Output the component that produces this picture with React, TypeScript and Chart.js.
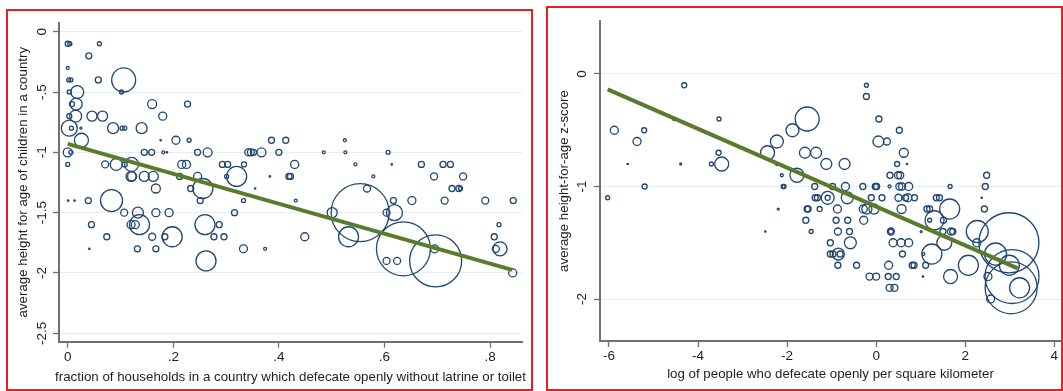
import React, { useEffect, useRef } from "react";
import Chart from "chart.js/auto";

// ---------- Left panel data ----------
const leftXTicks = [0, 0.2, 0.4, 0.6, 0.8];
const leftXTickLabels = ["0", ".2", ".4", ".6", ".8"];
const leftYTicks = [0, -0.5, -1, -1.5, -2, -2.5];
const leftYTickLabels = ["0", "-.5", "-1", "-1.5", "-2", "-2.5"];
const leftXTitle = "fraction of households in a country which defecate openly without latrine or toilet";
const leftYTitle = "average height for age of children in a country";
// [fraction defecating openly, average height-for-age, population (millions)]
const leftPoints: [number, number, number][] = [
  [0.0, -0.1, 9], [0.004, -0.1, 5.7], [0.06, -0.1, 5.7], [0.04, -0.2, 13], [0.0, -0.3, 3.2],
  [0.002, -0.4, 5.7], [0.006, -0.4, 5.7], [0.058, -0.4, 13], [0.106, -0.4, 205], [0.102, -0.5, 5.7],
  [0.018, -0.5, 60], [0.003, -0.5, 5.7], [0.016, -0.6, 51], [0.008, -0.6, 9], [0.015, -0.7, 51],
  [0.003, -0.7, 9], [0.046, -0.7, 36], [0.066, -0.7, 36], [0.003, -0.8, 91], [0.007, -0.8, 5.7],
  [0.025, -0.8, 1.4], [0.086, -0.8, 43], [0.103, -0.8, 5.7], [0.108, -0.8, 5.7], [0.14, -0.8, 43],
  [0.16, -0.6, 29], [0.227, -0.6, 13], [0.18, -0.7, 23], [0.026, -0.9, 70], [0.205, -0.9, 23],
  [0.23, -0.9, 5.7], [0.176, -0.9, 0.7], [0.0, -1.0, 29], [0.006, -1.0, 5.7], [0.145, -1.0, 13],
  [0.159, -1.0, 13], [0.181, -1.0, 3.2], [0.188, -1.0, 0.7], [0.246, -1.0, 13], [0.265, -1.0, 29],
  [0.0, -1.1, 5.7], [0.071, -1.1, 17.5], [0.092, -1.1, 51], [0.108, -1.1, 9], [0.121, -1.1, 70],
  [0.216, -1.1, 23], [0.225, -1.1, 23], [0.12, -1.2, 36], [0.122, -1.2, 29], [0.145, -1.2, 36],
  [0.162, -1.2, 36], [0.212, -1.2, 13], [0.246, -1.2, 23], [0.167, -1.3, 29], [0.233, -1.3, 13],
  [0.256, -1.3, 143], [0.293, -1.1, 13], [0.303, -1.1, 13], [0.334, -1.1, 9], [0.32, -1.2, 143],
  [0.301, -1.2, 5.7], [0.342, -1.0, 17.5], [0.347, -1.0, 17.5], [0.352, -1.0, 13], [0.367, -1.0, 29],
  [0.386, -0.9, 13], [0.413, -0.9, 13], [0.525, -0.9, 3.2], [0.4, -1.0, 13], [0.485, -1.0, 3.2],
  [0.526, -1.0, 3.2], [0.607, -1.0, 5.7], [0.43, -1.1, 23], [0.545, -1.1, 3.2], [0.614, -1.1, 0.7],
  [0.67, -1.1, 13], [0.711, -1.1, 13], [0.725, -1.1, 13], [0.383, -1.2, 0.7], [0.419, -1.2, 13],
  [0.422, -1.2, 13], [0.579, -1.2, 3.2], [0.694, -1.2, 17.5], [0.749, -1.2, 17.5], [0.728, -1.3, 13],
  [0.741, -1.3, 13], [0.744, -1.3, 5.7], [0.567, -1.3, 17.5], [0.355, -1.3, 0.7], [0.001, -1.4, 0.7],
  [0.013, -1.4, 0.7], [0.039, -1.4, 13], [0.083, -1.4, 173], [0.251, -1.4, 13], [0.333, -1.4, 5.7],
  [0.432, -1.4, 3.2], [0.617, -1.4, 13], [0.652, -1.4, 23], [0.714, -1.4, 17.5], [0.791, -1.4, 17.5],
  [0.844, -1.4, 13], [0.107, -1.5, 17.5], [0.133, -1.5, 43], [0.167, -1.5, 23], [0.192, -1.5, 23],
  [0.316, -1.5, 13], [0.554, -1.5, 1200], [0.501, -1.5, 36], [0.604, -1.5, 17.5], [0.619, -1.5, 91],
  [0.045, -1.6, 13], [0.12, -1.6, 23], [0.128, -1.6, 23], [0.136, -1.6, 143], [0.26, -1.6, 143],
  [0.287, -1.6, 13], [0.817, -1.6, 5.7], [0.074, -1.7, 13], [0.16, -1.7, 17.5], [0.184, -1.7, 13],
  [0.198, -1.7, 143], [0.277, -1.7, 13], [0.296, -1.7, 13], [0.449, -1.7, 23], [0.532, -1.7, 143],
  [0.808, -1.7, 13], [0.041, -1.8, 0.7], [0.132, -1.8, 13], [0.167, -1.8, 13], [0.333, -1.8, 23],
  [0.374, -1.8, 3.2], [0.636, -1.8, 1040], [0.695, -1.8, 23], [0.811, -1.8, 17.5], [0.819, -1.8, 70],
  [0.262, -1.9, 143], [0.604, -1.9, 17.5], [0.624, -1.9, 17.5], [0.697, -1.9, 965], [0.843, -2.0, 23],
];
const leftFitX = [0, 0.842];
const leftFitY = [-0.93, -1.975];

// ---------- Right panel data ----------
const rightXTicks = [-6, -4, -2, 0, 2, 4];
const rightXTickLabels = ["-6", "-4", "-2", "0", "2", "4"];
const rightYTicks = [0, -1, -2];
const rightYTickLabels = ["0", "-1", "-2"];
const rightXTitle = "log of people who defecate openly per square kilometer";
const rightYTitle = "average height-for-age z-score";
// [log open defecators per km², average height-for-age z-score, population (millions)]
const rightPoints: [number, number, number][] = [
  [-4.31, -0.1, 9], [-5.88, -0.5, 23], [-5.21, -0.5, 9], [-5.37, -0.6, 23], [-4.54, -0.4, 3.2],
  [-3.53, -0.4, 5.7], [-3.54, -0.7, 9], [-3.47, -0.8, 70], [-3.7, -0.8, 5.7], [-5.58, -0.8, 0.7],
  [-4.39, -0.8, 1.4], [-5.2, -1.0, 9], [-6.03, -1.1, 5.7], [-2.44, -0.7, 70], [-2.23, -0.6, 60],
  [-1.88, -0.5, 60], [-1.55, -0.4, 205], [-2.23, -0.8, 3.2], [-1.78, -0.9, 70], [-2.12, -0.9, 3.2],
  [-2.09, -1.0, 5.7], [-2.07, -1.0, 5.7], [-1.6, -0.7, 43], [-1.35, -0.7, 43], [-1.12, -0.8, 43],
  [-0.71, -0.8, 43], [-0.22, -0.1, 5.7], [-0.22, -0.2, 13], [0.06, -0.4, 13], [0.52, -0.5, 13],
  [0.05, -0.6, 43], [0.24, -0.6, 17.5], [0.62, -0.7, 29], [0.47, -0.8, 9], [0.69, -0.8, 0.7],
  [0.31, -0.9, 13], [0.49, -0.9, 17.5], [0.54, -0.9, 17.5], [2.48, -0.9, 13], [-1.38, -1.0, 13],
  [-0.98, -1.0, 13], [-0.69, -1.0, 23], [-0.3, -1.0, 13], [-0.02, -1.0, 13], [0.01, -1.0, 13],
  [0.3, -1.0, 3.2], [0.52, -1.0, 17.5], [0.58, -1.0, 17.5], [0.73, -1.0, 23], [1.66, -1.0, 5.7],
  [2.45, -1.0, 13], [-1.37, -1.1, 13], [-1.32, -1.1, 13], [-1.09, -1.1, 60], [-1.09, -1.1, 9],
  [-0.65, -1.1, 51], [-0.11, -1.1, 13], [0.13, -1.1, 13], [0.5, -1.1, 17.5], [0.66, -1.1, 13],
  [0.71, -1.1, 23], [0.86, -1.1, 13], [1.35, -1.1, 13], [1.42, -1.1, 13], [2.37, -1.1, 0.7],
  [-2.2, -1.2, 1.4], [-1.53, -1.2, 13], [-1.55, -1.2, 13], [-1.27, -1.2, 9], [-0.87, -1.2, 23],
  [-0.29, -1.2, 23], [-0.21, -1.2, 36], [-0.05, -1.2, 36], [0.57, -1.2, 29], [1.14, -1.2, 13],
  [1.2, -1.2, 13], [1.65, -1.2, 143], [2.43, -1.2, 13], [-1.58, -1.3, 13], [-0.9, -1.3, 13],
  [-0.64, -1.3, 13], [-0.28, -1.3, 23], [1.2, -1.3, 5.7], [1.31, -1.3, 129], [1.51, -1.3, 13],
  [-2.49, -1.4, 0.7], [-1.46, -1.4, 5.7], [-0.86, -1.4, 17.5], [-0.6, -1.4, 13], [0.33, -1.4, 17.5],
  [0.33, -1.4, 9], [1.01, -1.4, 1.4], [1.5, -1.4, 13], [1.68, -1.4, 17.5], [1.72, -1.4, 13],
  [2.27, -1.4, 173], [-1.03, -1.5, 13], [-0.58, -1.5, 51], [0.38, -1.5, 23], [0.56, -1.5, 23],
  [0.73, -1.5, 23], [1.53, -1.5, 80], [2.26, -1.5, 23], [2.98, -1.5, 1285], [-1.03, -1.6, 13],
  [-0.97, -1.6, 13], [-0.85, -1.6, 51], [-0.81, -1.6, 13], [0.59, -1.6, 13], [1.06, -1.6, 3.2],
  [1.25, -1.6, 143], [2.68, -1.6, 173], [-0.86, -1.7, 13], [-0.44, -1.7, 13], [0.28, -1.7, 23],
  [0.81, -1.7, 13], [0.85, -1.7, 13], [1.11, -1.7, 13], [2.07, -1.7, 143], [2.99, -1.7, 143],
  [-0.15, -1.8, 17.5], [0.0, -1.8, 17.5], [0.27, -1.8, 13], [0.45, -1.8, 13], [1.05, -1.8, 0.7],
  [1.67, -1.8, 70], [2.51, -1.8, 23], [3.05, -1.8, 1040], [0.3, -1.9, 17.5], [0.41, -1.9, 17.5],
  [3.03, -1.9, 965], [3.22, -1.9, 143], [2.57, -2.0, 23],
];
const rightFitX = [-6.03, 3.18];
const rightFitY = [-0.136, -1.727];

// ---------- styles ----------
const NAVY = "#1f4673";
const FIT = "#5a7b2b";
const AXIS = "#707070";
const GRID = "#e8ecef";
const TEXT = "#1e1e1e";
const FONT = '"Liberation Sans", Arial, sans-serif';
const TICK_SIZE = 13.5;
const TITLE_SIZE = 13.3;
const RADIUS_K = 0.837;

type Spec = {
  points: [number, number, number][];
  fitX: number[]; fitY: number[];
  xTicks: number[]; xTickLabels: string[];
  yTicks: number[]; yTickLabels: string[];
  xTitle: string; yTitle: string;
  xMin: number; xMax: number; yMin: number; yMax: number;
  yAxisWidth: number; xAxisHeight: number; padTop: number; padRight: number;
  yTickX: number; yTitleX: number; xTitleY: number;
};

const leftSpec: Spec = {
  points: leftPoints, fitX: leftFitX, fitY: leftFitY,
  xTicks: leftXTicks, xTickLabels: leftXTickLabels, yTicks: leftYTicks, yTickLabels: leftYTickLabels,
  xTitle: leftXTitle, yTitle: leftYTitle,
  xMin: -0.0165, xMax: 0.8606, yMin: -2.57, yMax: 0.0746,
  yAxisWidth: 59, xAxisHeight: 49.3, padTop: 22.7, padRight: 8,
  yTickX: 42, yTitleX: 23, xTitleY: 377,
};

const rightSpec: Spec = {
  points: rightPoints, fitX: rightFitX, fitY: rightFitY,
  xTicks: rightXTicks, xTickLabels: rightXTickLabels, yTicks: rightYTicks, yTickLabels: rightYTickLabels,
  xTitle: rightXTitle, yTitle: rightYTitle,
  xMin: -6.202, xMax: 4.15, yMin: -2.373, yMax: 0.471,
  yAxisWidth: 65, xAxisHeight: 50, padTop: 21, padRight: 2,
  yTickX: 47.5, yTitleX: 29, xTitleY: 374,
};

function makeTextPlugin(spec: Spec) {
  return {
    id: "panelText",
    afterDraw(chart: any) {
      const ctx = chart.ctx as CanvasRenderingContext2D;
      const ys = chart.scales.y;
      const area = chart.chartArea;
      ctx.save();
      ctx.fillStyle = TEXT;
      ctx.textAlign = "center";
      ctx.textBaseline = "middle";
      ctx.font = `${TICK_SIZE}px ${FONT}`;
      spec.yTicks.forEach((v, i) => {
        const py = ys.getPixelForValue(v);
        ctx.save();
        ctx.translate(spec.yTickX, py);
        ctx.rotate(-Math.PI / 2);
        ctx.fillText(spec.yTickLabels[i], 0, 0);
        ctx.restore();
      });
      ctx.font = `${TITLE_SIZE}px ${FONT}`;
      ctx.save();
      ctx.translate(spec.yTitleX, (area.top + area.bottom) / 2);
      ctx.rotate(-Math.PI / 2);
      ctx.fillText(spec.yTitle, 0, 0);
      ctx.restore();
      ctx.fillText(spec.xTitle, (area.left + area.right) / 2, spec.xTitleY);
      ctx.restore();
    },
  };
}

function makeConfig(spec: Spec): any {
  return {
    type: "bubble",
    data: {
      datasets: [
        {
          type: "line",
          data: spec.fitX.map((x, i) => ({ x, y: spec.fitY[i] })),
          borderColor: FIT,
          borderWidth: 4,
          pointRadius: 0,
          fill: false,
          tension: 0,
          borderCapStyle: "butt",
        },
        {
          type: "bubble",
          data: spec.points.map(([x, y, pop]) => ({ x, y, r: RADIUS_K * Math.sqrt(pop) })),
          backgroundColor: "rgba(0,0,0,0)",
          borderColor: NAVY,
          borderWidth: 1.3,
          clip: false,
        },
      ],
    },
    options: {
      responsive: false,
      animation: false,
      events: [],
      layout: { autoPadding: false, padding: { top: spec.padTop, right: spec.padRight, left: 0, bottom: 0 } },
      plugins: { legend: { display: false }, tooltip: { enabled: false } },
      scales: {
        x: {
          type: "linear",
          min: spec.xMin,
          max: spec.xMax,
          afterFit: (s: any) => {
            s.height = spec.xAxisHeight;
            s.paddingLeft = 0; s.paddingRight = 0; s.paddingTop = 0; s.paddingBottom = 0;
          },
          afterBuildTicks: (s: any) => { s.ticks = spec.xTicks.map((v) => ({ value: v })); },
          ticks: {
            callback: (_v: any, i: number) => spec.xTickLabels[i],
            color: TEXT,
            font: { family: FONT, size: TICK_SIZE },
            padding: 1,
            maxRotation: 0,
            autoSkip: false,
          },
          grid: { drawOnChartArea: false, drawTicks: true, tickLength: 6, tickColor: AXIS, tickWidth: 1.3 },
          border: { display: true, color: AXIS, width: 2 },
        },
        y: {
          type: "linear",
          min: spec.yMin,
          max: spec.yMax,
          afterFit: (s: any) => {
            s.width = spec.yAxisWidth;
            s.paddingLeft = 0; s.paddingRight = 0; s.paddingTop = 0; s.paddingBottom = 0;
          },
          afterBuildTicks: (s: any) => { s.ticks = spec.yTicks.map((v) => ({ value: v })); },
          ticks: { display: false },
          grid: { color: GRID, lineWidth: 1, drawTicks: true, tickLength: 6, tickColor: AXIS, tickWidth: 1.3 },
          border: { display: true, color: AXIS, width: 2 },
        },
      },
    },
    plugins: [makeTextPlugin(spec)],
  };
}

export default function App() {
  const leftRef = useRef<HTMLCanvasElement>(null);
  const rightRef = useRef<HTMLCanvasElement>(null);
  useEffect(() => {
    const c1 = new Chart(leftRef.current as HTMLCanvasElement, makeConfig(leftSpec));
    const c2 = new Chart(rightRef.current as HTMLCanvasElement, makeConfig(rightSpec));
    return () => { c1.destroy(); c2.destroy(); };
  }, []);
  return (
    <div style={{ position: "fixed", left: 0, top: 0, width: 1063, height: 391, background: "#fff", overflow: "hidden" }}>
      <canvas ref={leftRef} width={530} height={391} style={{ position: "absolute", left: 0, top: 0 }} />
      <canvas ref={rightRef} width={528} height={391} style={{ position: "absolute", left: 535, top: 0 }} />
      <div style={{ position: "absolute", left: 6, top: 9, width: 527, height: 382, border: "2px solid #ec1c24", boxSizing: "border-box", pointerEvents: "none" }} />
      <div style={{ position: "absolute", left: 546, top: 6, width: 517, height: 385, border: "2px solid #ec1c24", boxSizing: "border-box", pointerEvents: "none" }} />
    </div>
  );
}
